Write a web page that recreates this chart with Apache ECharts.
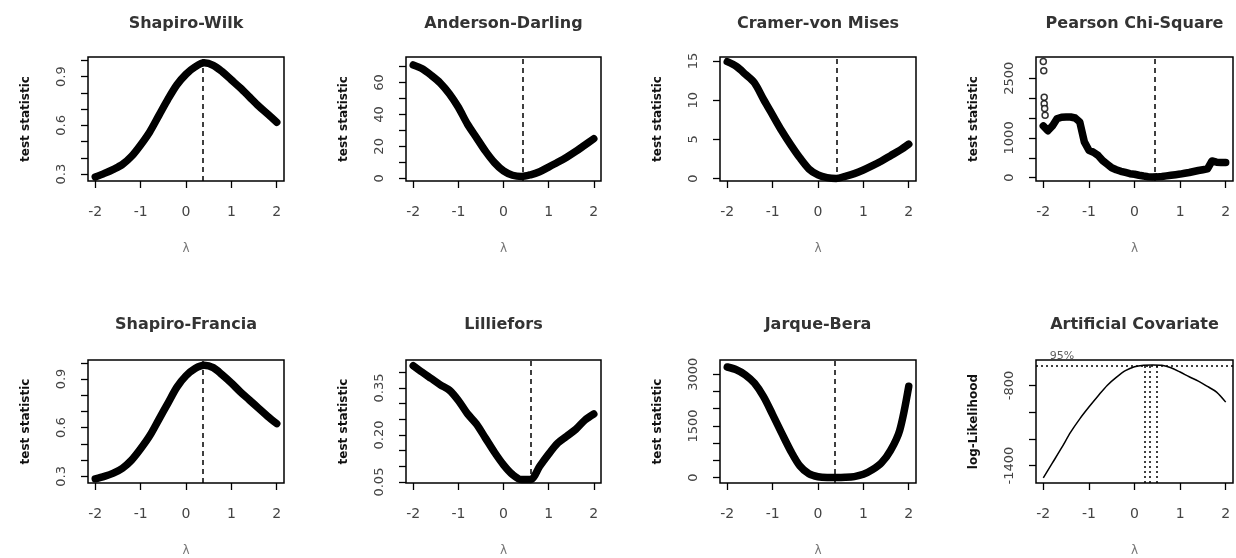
<!DOCTYPE html>
<html><head><meta charset="utf-8">
<script src="https://cdn.jsdelivr.net/npm/echarts@6/dist/echarts.min.js"></script>
<style>html,body{margin:0;padding:0;background:#fff}#c{width:1236px;height:558px}</style>
</head><body><div id="c"></div>
<script>
// ---------- data ----------
const titles = ['Shapiro-Wilk', 'Anderson-Darling', 'Cramer-von Mises', 'Pearson Chi-Square',
                'Shapiro-Francia', 'Lilliefors', 'Jarque-Bera', 'Artificial Covariate'];
const yNames = ['test statistic', 'test statistic', 'test statistic', 'test statistic',
                'test statistic', 'test statistic', 'test statistic', 'log-Likelihood'];
const xName = 'λ';

const lambda = [-2, -1.8, -1.6, -1.4, -1.2, -1, -0.8, -0.6, -0.4, -0.2, 0,
                0.2, 0.4, 0.6, 0.8, 1, 1.2, 1.4, 1.6, 1.8, 2];
const lambdaFine = [-2, -1.9, -1.8, -1.7, -1.6, -1.5, -1.4, -1.3, -1.2, -1.1, -1,
                    -0.9, -0.8, -0.7, -0.6, -0.5, -0.4, -0.3, -0.2, -0.1, 0,
                    0.1, 0.2, 0.3, 0.4, 0.5, 0.6, 0.7, 0.8, 0.9, 1,
                    1.1, 1.2, 1.3, 1.4, 1.5, 1.6, 1.7, 1.8, 1.9, 2];

const shapiroWilk = [0.283, 0.305, 0.33, 0.36, 0.41, 0.48, 0.56, 0.66, 0.76, 0.85, 0.915,
                     0.96, 0.985, 0.97, 0.93, 0.88, 0.83, 0.775, 0.72, 0.67, 0.62];
const andersonDarling = [71, 68.6, 64.5, 59.7, 53, 44.5, 34, 25.5, 17, 9.8, 4.6,
                         1.9, 1.1, 2.2, 4.1, 7.0, 10, 13.2, 16.8, 20.8, 24.8];
const cramerVonMises = [14.9, 14.3, 13.3, 12.2, 10.1, 8.1, 6.1, 4.3, 2.65, 1.24, 0.47,
                        0.13, 0.03, 0.3, 0.64, 1.1, 1.65, 2.25, 2.93, 3.6, 4.4];
const pearsonChiSq = [1300, 1180, 1300, 1480, 1520, 1525, 1525, 1500, 1400, 900, 690,
                      640, 560, 430, 340, 250, 200, 160, 130, 100, 85,
                      60, 40, 25, 17, 20, 30, 45, 60, 75, 90,
                      110, 130, 155, 180, 200, 220, 420, 390, 380, 380];
const pearsonExtraLambda = [-2, -1.99, -1.98, -1.98, -1.97, -1.96];
const pearsonExtraValue = [2920, 2690, 2020, 1860, 1740, 1570];
const shapiroFrancia = [0.285, 0.30, 0.32, 0.35, 0.40, 0.47, 0.55, 0.65, 0.75, 0.85, 0.92,
                        0.965, 0.985, 0.97, 0.925, 0.875, 0.82, 0.77, 0.72, 0.67, 0.625];
const lilliefors = [0.421, 0.40, 0.38, 0.36, 0.343, 0.31, 0.268, 0.235, 0.19, 0.145, 0.105,
                    0.074, 0.058, 0.058, 0.10, 0.139, 0.174, 0.196, 0.218, 0.247, 0.267];
const jarqueBera = [3210, 3130, 2980, 2740, 2350, 1830, 1290, 770, 340, 110, 25,
                    3, 2, 8, 30, 95, 230, 430, 790, 1370, 2650];
const logLik = [-1492, -1380, -1268, -1150, -1050, -962, -879, -800, -740, -690, -660,
                -649, -647, -650, -668, -700, -735, -768, -808, -850, -925];

const lambdaHat = [0.38, 0.43, 0.42, 0.44, 0.38, 0.6, 0.38];
const ciLambda = [0.22, 0.48];
const mleLambda = 0.34;
const ciLevel = -650;
const maxLogLik = -647;
const ciText = '95%';
const ciTextLambda = -1.59;

const xTicks = [-2, -1, 0, 1, 2];
const xRange = [-2.16, 2.16];

const yRanges = [[0.258, 1.021], [-1.7, 76], [-0.3, 15.5], [-84, 3034],
                 [0.259, 1.017], [0.047, 0.439], [-156, 3413], [-1530, -610]];
const yTicks = [[0.3, 0.4, 0.5, 0.6, 0.7, 0.8, 0.9, 1.0],
                [0, 10, 20, 30, 40, 50, 60, 70],
                [0, 5, 10, 15],
                [0, 500, 1000, 1500, 2000, 2500],
                [0.3, 0.4, 0.5, 0.6, 0.7, 0.8, 0.9, 1.0],
                [0.05, 0.10, 0.15, 0.20, 0.25, 0.30, 0.35, 0.40],
                [0, 500, 1000, 1500, 2000, 2500, 3000],
                [-1400, -1200, -1000, -800]];
const yTickLabels = [[0.3, 0.6, 0.9], [0, 20, 40, 60], [0, 5, 10, 15], [0, 1000, 2500],
                     [0.3, 0.6, 0.9], [0.05, 0.20, 0.35], [0, 1500, 3000], [-1400, -800]];
const yDecimals = [1, 0, 0, 0, 1, 2, 0, 0];

// ---------- layout ----------
const gridBoxes = [[88, 57, 196, 124], [406, 57, 195, 124], [720, 57, 196, 124], [1036, 57, 197, 124],
                   [88, 360, 196, 123], [406, 360, 195, 123], [720, 360, 196, 123], [1036, 360, 197, 123]];
const FONT = 'DejaVu Sans';

const zip = (xs, ys) => xs.map((x, i) => [x, ys[i]]);
const panelData = [
  zip(lambda, shapiroWilk), zip(lambda, andersonDarling), zip(lambda, cramerVonMises),
  zip(lambdaFine, pearsonChiSq), zip(lambda, shapiroFrancia), zip(lambda, lilliefors),
  zip(lambda, jarqueBera), zip(lambda, logLik)
];

const grid = gridBoxes.map(b => ({
  left: b[0], top: b[1], width: b[2], height: b[3],
  show: true, borderColor: '#000', borderWidth: 1.5, backgroundColor: 'transparent',
  containLabel: false
}));

const title = gridBoxes.map((b, i) => ({
  text: titles[i], left: b[0] + b[2] / 2, top: i < 4 ? 16 : 317, textAlign: 'center', padding: 0,
  textStyle: { fontFamily: FONT, fontWeight: 'bold', fontSize: 16, color: '#333' }
}));

const xAxis = gridBoxes.map((b, i) => ({
  type: 'value', gridIndex: i, min: xRange[0], max: xRange[1],
  name: xName, nameLocation: 'middle', nameGap: 62,
  nameTextStyle: { fontFamily: FONT, fontSize: 12, color: '#777' },
  axisLine: { show: false, onZero: false },
  axisTick: { show: true, length: 7, customValues: xTicks, lineStyle: { color: '#000', width: 1.3 } },
  axisLabel: { customValues: xTicks, margin: 24, fontFamily: FONT, fontSize: 14, color: '#444',
               formatter: v => String(v) },
  splitLine: { show: false }
}));

const yAxis = gridBoxes.map((b, i) => ({
  type: 'value', gridIndex: i, min: yRanges[i][0], max: yRanges[i][1],
  name: yNames[i], nameLocation: 'middle', nameGap: 56, nameRotate: 90,
  nameTextStyle: { fontFamily: FONT, fontSize: 12, fontWeight: 'bold', color: '#111' },
  axisLine: { show: false, onZero: false },
  axisTick: { show: true, length: 7, customValues: yTicks[i], lineStyle: { color: '#000', width: 1.3 } },
  axisLabel: { customValues: yTickLabels[i], rotate: 90, margin: 20, fontFamily: FONT, fontSize: 13,
               color: '#444', formatter: v => Number(v).toFixed(yDecimals[i]) },
  splitLine: { show: false }
}));

const series = [];
for (let i = 0; i < 7; i++) {
  series.push({
    type: 'line', xAxisIndex: i, yAxisIndex: i, data: panelData[i],
    showSymbol: false, smooth: i === 3 ? false : 0.3,
    lineStyle: { color: '#000', width: 7.5, cap: 'round', join: 'round' },
    markLine: {
      silent: true, symbol: ['none', 'none'], label: { show: false },
      lineStyle: { color: '#000', type: [5, 4], width: 1.5 },
      data: [{ xAxis: lambdaHat[i] }]
    }
  });
}
series.push({
  type: 'scatter', xAxisIndex: 3, yAxisIndex: 3,
  data: zip(pearsonExtraLambda, pearsonExtraValue),
  symbol: 'circle', symbolSize: 6,
  itemStyle: { color: '#fff', borderColor: '#000', borderWidth: 1.5 }
});
const lo = yRanges[7][0];
series.push({
  type: 'line', xAxisIndex: 7, yAxisIndex: 7, data: panelData[7],
  showSymbol: false, smooth: 0.3,
  lineStyle: { color: '#000', width: 1.5 },
  markLine: {
    silent: true, symbol: ['none', 'none'], label: { show: false },
    lineStyle: { color: '#000', type: [2, 3], width: 1.5 },
    data: [
      { yAxis: ciLevel },
      [{ coord: [ciLambda[0], lo] }, { coord: [ciLambda[0], ciLevel] }],
      [{ coord: [mleLambda, lo] }, { coord: [mleLambda, maxLogLik] }],
      [{ coord: [ciLambda[1], lo] }, { coord: [ciLambda[1], ciLevel] }]
    ]
  }
});
series.push({
  type: 'scatter', xAxisIndex: 7, yAxisIndex: 7, data: [[ciTextLambda, ciLevel]],
  symbolSize: 0, clip: false,
  label: { show: true, position: 'top', distance: 4, formatter: ciText,
           fontFamily: FONT, fontSize: 11, color: '#333' }
});

const chart = echarts.init(document.getElementById('c'), null, { renderer: 'canvas' });
chart.setOption({
  animation: false,
  backgroundColor: '#fff',
  title, grid, xAxis, yAxis, series
});
</script>
</body></html>
